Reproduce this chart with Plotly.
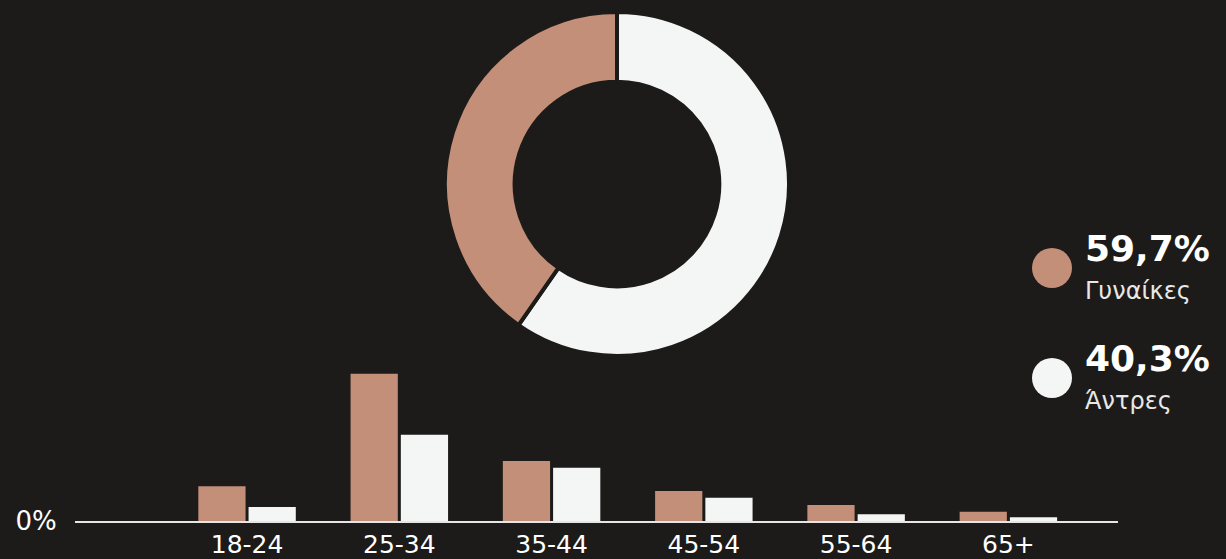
import plotly.graph_objects as go

# ---- data ----
age_groups = ["18-24", "25-34", "35-44", "45-54", "55-64", "65+"]
women_pct = [7.2, 30.4, 12.4, 6.2, 3.3, 1.9]
men_pct = [2.9, 17.8, 11.0, 4.8, 1.4, 0.8]
donut_labels = ["Άντρες", "Γυναίκες"]
donut_values = [59.7, 40.3]
legend_values = ["59,7%", "40,3%"]
legend_names = ["Γυναίκες", "Άντρες"]
y_tick_vals = [0]
y_tick_text = ["0%"]
title_text = "Ηλικία & Φύλο"

BG = "#1c1b19"
COPPER = "#c48f78"
WHITE = "#f4f5f5"
W, H = 1226, 559
FONT = "DejaVu Sans"

fig = go.Figure()

fig.add_trace(go.Bar(x=age_groups, y=women_pct, name=legend_names[0],
                     marker=dict(color=COPPER, line=dict(width=0)),
                     hoverinfo="x+y"))
fig.add_trace(go.Bar(x=age_groups, y=men_pct, name=legend_names[1],
                     marker=dict(color=WHITE, line=dict(width=0)),
                     hoverinfo="x+y"))

# donut
cx, cy, r = 617, 184, 172
fig.add_trace(go.Pie(labels=donut_labels, values=donut_values, hole=0.595,
                     sort=False, direction="clockwise", rotation=0,
                     marker=dict(colors=[WHITE, COPPER], line=dict(color=BG, width=4)),
                     textinfo="none", showlegend=False,
                     domain=dict(x=[(cx - r) / W, (cx + r) / W],
                                 y=[(H - cy - r) / H, (H - cy + r) / H])))

x0, x1 = 75, 1118
ybase, ytop = 521, 360
fig.update_layout(
    width=W, height=H,
    paper_bgcolor=BG, plot_bgcolor=BG,
    margin=dict(l=0, r=0, t=0, b=0, autoexpand=False),
    showlegend=False,
    barmode="group", bargap=0.34, bargroupgap=0.06,
    font=dict(family=FONT, color="white"),
    xaxis=dict(domain=[x0 / W, x1 / W], range=[-1.13, 5.72], automargin=False,
               showgrid=False, zeroline=False, showline=True,
               linecolor="#e6e6e6", linewidth=2,
               ticks="", ticklen=0,
               tickfont=dict(size=25, color="white", family=FONT)),
    yaxis=dict(domain=[(H - ybase) / H, (H - ytop) / H], range=[0, (ybase - ytop) / 4.84],
               automargin=False,
               showgrid=False, zeroline=False, showline=False,
               tickvals=y_tick_vals, ticktext=y_tick_text,
               ticks="outside", ticklen=12, tickcolor="rgba(0,0,0,0)",
               tickfont=dict(size=26, color="white", family=FONT)),
)

# custom legend
legend_colors = [COPPER, WHITE]
circle_y = [268, 378]
for i in range(2):
    yc = circle_y[i]
    fig.add_shape(type="circle", xref="paper", yref="paper",
                  x0=(1052 - 20) / W, x1=(1052 + 20) / W,
                  y0=(H - yc - 20) / H, y1=(H - yc + 20) / H,
                  fillcolor=legend_colors[i], line=dict(width=0))
    fig.add_annotation(xref="paper", yref="paper", x=1083 / W, y=(H - (yc - 20)) / H,
                       xanchor="left", yanchor="middle", showarrow=False,
                       text="<b>" + legend_values[i] + "</b>",
                       font=dict(size=36, color="white", family=FONT))
    fig.add_annotation(xref="paper", yref="paper", x=1083 / W, y=(H - (yc + 23)) / H,
                       xanchor="left", yanchor="middle", showarrow=False,
                       text=legend_names[i],
                       font=dict(size=24, color="#e8e8e8", family=FONT))

# title cut at top
fig.add_annotation(xref="paper", yref="paper", x=8 / W, y=1,
                   xanchor="left", yanchor="bottom", yshift=-6, showarrow=False,
                   text=title_text, font=dict(size=22, color="white", family=FONT))

fig.write_html("out.html", config={"displayModeBar": False},
               post_script="document.body.style.margin='0';")
